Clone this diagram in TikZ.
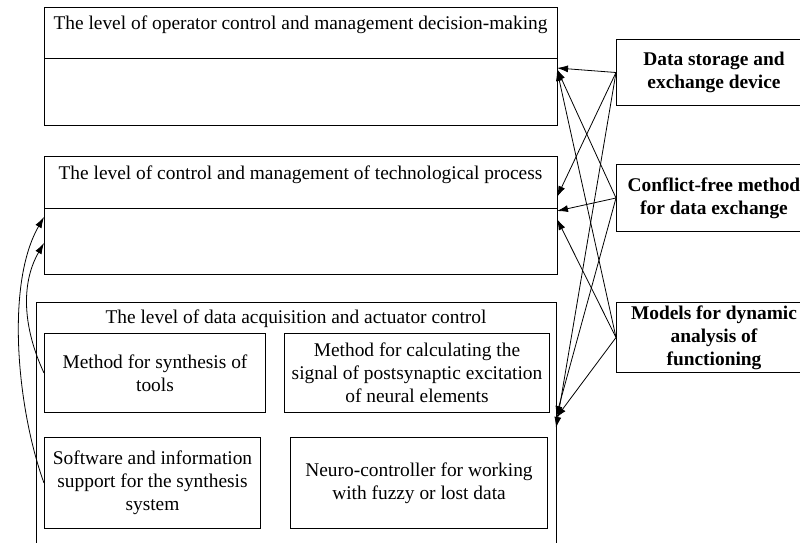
\documentclass[tikz,border=0pt]{standalone}
\usepackage{fontspec}
\setmainfont{Liberation Serif}
\usetikzlibrary{arrows.meta}
\begin{document}
\begin{tikzpicture}[x=1pt,y=-1pt,
  box/.style={draw,line width=1pt,rectangle,inner sep=0pt,anchor=north west,align=center},
  txt/.style={font=\fontsize{19.4}{23}\selectfont,align=center},
  btxt/.style={font=\fontsize{19.4}{23}\selectfont\bfseries,align=center},
  arr/.style={-{Latex[length=11pt,width=7pt]},line width=0.8pt}]
\clip (0,0) rectangle (800,542);
% level boxes
\node[box,minimum width=513pt,minimum height=118pt] (top) at (44,7) {};
\node[box,minimum width=513pt,minimum height=118pt] (mid) at (44,156) {};
\node[box,minimum width=520pt,minimum height=260pt] (low) at (36,302) {};
\coordinate (td1) at (44,58); \coordinate (td2) at (557,58);
\coordinate (md1) at (44,208); \coordinate (md2) at (557,208);
\draw[line width=1pt] (td1) -- (td2);
\draw[line width=1pt] (md1) -- (md2);
\node[txt] (ttop) at (300.5,25) {The level of operator control and management decision-making};
\node[txt] (tmid) at (300.5,175) {The level of control and management of technological process};
\node[txt] (tlow) at (296,319) {The level of data acquisition and actuator control};
% inner boxes
\node[box,txt,minimum width=221pt,minimum height=79pt] (m1) at (44,333) {Method for synthesis of\\tools};
\node[box,txt,minimum width=265pt,minimum height=79pt] (m2) at (284,333) {Method for calculating the\\signal of postsynaptic excitation\\of neural elements};
\node[box,txt,minimum width=216pt,minimum height=91pt] (s1) at (44,437) {Software and information\\support for the synthesis\\system};
\node[box,txt,minimum width=257pt,minimum height=91pt] (n1) at (290,437) {Neuro-controller for working\\with fuzzy or lost data};
% right boxes
\node[box,btxt,minimum width=195pt,minimum height=66pt] (ds) at (616,39) {Data storage and\\exchange device};
\node[box,btxt,minimum width=195pt,minimum height=67pt] (cf) at (616,164) {Conflict-free method\\for data exchange};
\node[box,btxt,minimum width=195pt,minimum height=70pt] (md) at (616,302) {Models for dynamic\\analysis of\\functioning};
% targets
\coordinate (a1) at (557,68);
\coordinate (a2) at (557,69);
\coordinate (a3) at (557,70);
\coordinate (b1) at (557,197);
\coordinate (b2) at (557,211);
\coordinate (b3) at (557,219);
\coordinate (c1) at (556,428);
\coordinate (c2) at (556,417);
\coordinate (c3) at (556,418);
\draw[arr] (ds.west) -- (a1);
\draw[arr] (ds.west) -- (b1);
\draw[arr] (ds.west) -- (c1);
\draw[arr] (cf.west) -- (a2);
\draw[arr] (cf.west) -- (b2);
\draw[arr] (cf.west) -- (c2);
\draw[arr] (md.west) -- (a3);
\draw[arr] (md.west) -- (b3);
\draw[arr] (md.west) -- (c3);
% left curves
\coordinate (l1) at (44,217);
\coordinate (l2) at (44,243);
\draw[arr] (s1.west) to[out=110,in=240,looseness=0.75] (l1);
\draw[arr] (m1.west) to[out=115,in=240,looseness=0.95] (l2);
\end{tikzpicture}
\end{document}
